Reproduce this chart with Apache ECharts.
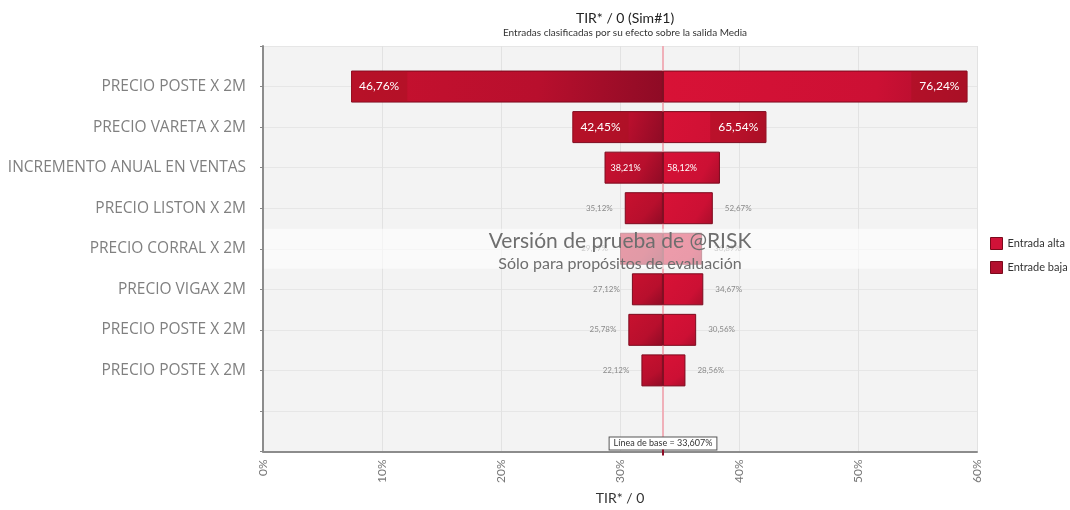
<!DOCTYPE html>
<html>
<head>
<meta charset="utf-8">
<script src="https://cdn.jsdelivr.net/npm/echarts@6/dist/echarts.min.js"></script>
<style>
  html, body { margin: 0; padding: 0; background: #ffffff; }
  #chart { width: 1070px; height: 510px; }
</style>
</head>
<body>
<div id="chart"></div>
<script>
// Inputs ranked by their effect on the mean of TIR* / 0
const categories = [
  'PRECIO POSTE X 2M',
  'PRECIO VARETA X 2M',
  'INCREMENTO ANUAL EN VENTAS',
  'PRECIO LISTON X 2M',
  'PRECIO CORRAL X 2M',
  'PRECIO VIGAX 2M',
  'PRECIO POSTE X 2M',
  'PRECIO POSTE X 2M'
];
// Output mean (%) when the input is at its low / high value
const outputAtLow  = [7.4, 26.0, 28.7, 30.4, 30.0, 31.0, 30.7, 31.8];
const outputAtHigh = [59.2, 42.3, 38.4, 37.8, 36.9, 37.0, 36.4, 35.5];
// Input values printed at the bar ends
const inputLowLabels  = ['46,76%', '42,45%', '38,21%', '35,12%', '29,97%', '27,12%', '25,78%', '22,12%'];
const inputHighLabels = ['76,24%', '65,54%', '58,12%', '52,67%', '36,89%', '34,67%', '30,56%', '28,56%'];
const baseline = 33.607;
const xTicks = [0, 10, 20, 30, 40, 50, 60];

const FONT = 'Lato, "Noto Sans", sans-serif';
const CAT_FONT = '"Open Sans", "Noto Sans", sans-serif';
const chart = echarts.init(document.getElementById('chart'), null, { renderer: 'canvas' });

// one empty slot above and two below the ranked inputs
const yCats = [''].concat(categories, ['', '']);
const padData = arr => ['-'].concat(arr, ['-', '-']);

function labelFor(i, side) {
  const text = side === 'low' ? inputLowLabels[i] : inputHighLabels[i];
  if (i <= 1) {
    return {
      show: true, formatter: text,
      position: side === 'low' ? 'insideLeft' : 'insideRight',
      distance: 0, color: '#ffffff', fontSize: 12, fontFamily: FONT,
      backgroundColor: 'rgba(170,18,34,0.55)', padding: [9, 8, 9, 8]
    };
  }
  if (i === 2) {
    return {
      show: true, formatter: text, position: 'insideLeft',
      distance: side === 'low' ? 6 : 4, color: '#ffffff', fontSize: 9, fontFamily: FONT
    };
  }
  return {
    show: true, formatter: text,
    position: side === 'low' ? 'left' : 'right',
    distance: 12, color: '#8a8a8a', fontSize: 8, fontFamily: FONT
  };
}

const lowColor = new echarts.graphic.LinearGradient(0, 0, 1, 1, [
  { offset: 0, color: '#c8112f' },
  { offset: 0.6, color: '#b80f2d' },
  { offset: 1, color: '#8e0b25' }
]);
const highColor = new echarts.graphic.LinearGradient(0, 0, 1, 1, [
  { offset: 0, color: '#d81236' },
  { offset: 0.7, color: '#cc1034' },
  { offset: 1, color: '#a90e2b' }
]);

const baseData = padData(outputAtLow);
const lowData = padData(outputAtLow.map((v, i) => ({
  value: +(baseline - v).toFixed(3), label: labelFor(i, 'low')
})));
const highData = padData(outputAtHigh.map((v, i) => ({
  value: +(v - baseline).toFixed(3), label: labelFor(i, 'high')
})));

const option = {
  backgroundColor: '#ffffff',
  animation: false,
  title: [{
    text: 'TIR* / 0 (Sim#1)',
    subtext: 'Entradas clasificadas por su efecto sobre la salida Media',
    left: 620, top: 6, textAlign: 'center', itemGap: 3,
    textStyle: { fontSize: 14, fontWeight: 'normal', color: '#222', fontFamily: FONT },
    subtextStyle: { fontSize: 10, color: '#333', fontFamily: FONT }
  }],
  legend: {
    orient: 'vertical', left: 985, top: 232, itemWidth: 12, itemHeight: 12, itemGap: 11,
    icon: 'rect',
    textStyle: { fontSize: 11, color: '#333', fontFamily: FONT },
    data: [
      { name: 'Entrada alta', itemStyle: { color: '#d01238', borderColor: '#7a0a1c', borderWidth: 1 } },
      { name: 'Entrade baja', itemStyle: { color: '#b30f2e', borderColor: '#7a0a1c', borderWidth: 1 } }
    ]
  },
  grid: { left: 263, right: 93, top: 46, bottom: 58.5, outerBoundsMode: 'none',
          show: true, backgroundColor: '#f3f3f3', borderWidth: 0 },
  xAxis: {
    type: 'value', min: xTicks[0], max: xTicks[xTicks.length - 1], interval: 10,
    name: 'TIR* / 0', nameLocation: 'middle', nameGap: 40,
    nameTextStyle: { fontSize: 14, color: '#333', fontFamily: FONT },
    axisLine: { show: true, lineStyle: { color: '#8c8c8c', width: 2 } },
    axisTick: { show: false },
    axisLabel: { rotate: 90, margin: 8, fontSize: 12, color: '#777', fontFamily: FONT,
                 formatter: v => v + '%' },
    splitLine: { show: true, lineStyle: { color: '#e2e2e2', width: 1 } }
  },
  yAxis: {
    type: 'category', data: yCats, inverse: true, boundaryGap: false,
    axisLine: { show: true, lineStyle: { color: '#8c8c8c', width: 2 } },
    axisTick: { show: true, length: 3, lineStyle: { color: '#888' } },
    axisLabel: { fontSize: 15.5, color: '#808080', margin: 17, fontFamily: CAT_FONT,
                 interval: 0 },
    splitLine: { show: true, lineStyle: { color: '#e6e6e6', width: 1 } }
  },
  series: [
    {
      name: 'base', type: 'bar', stack: 'tornado', barWidth: 32, silent: true,
      itemStyle: { color: 'transparent' }, data: baseData
    },
    {
      name: 'Entrade baja', type: 'bar', stack: 'tornado', barWidth: 32,
      itemStyle: { color: lowColor, borderColor: '#7d0a1e', borderWidth: 1 },
      data: lowData
    },
    {
      name: 'Entrada alta', type: 'bar', stack: 'tornado', barWidth: 32,
      itemStyle: { color: highColor, borderColor: '#7d0a1e', borderWidth: 1 },
      data: highData
    }
  ]
};
chart.setOption(option);

// Baseline rule, evaluation watermark band and captions, placed on the axes
const px = v => chart.convertToPixel({ xAxisIndex: 0 }, v);
const py = i => chart.convertToPixel({ yAxisIndex: 0 }, i);
const xL = px(0), xR = px(60), xB = Math.round(px(baseline));
const yRow = py(5);
const yTop = py(0);
const yBottom = py(yCats.length - 1);

chart.setOption({
  graphic: [
    {
      type: 'line', z: 1, silent: true,
      shape: { x1: xB, y1: yTop, x2: xB, y2: yBottom },
      style: { stroke: '#f0b0b9', lineWidth: 2 }
    },
    {
      type: 'rect', z: 50, silent: true,
      shape: { x: xL + 1, y: yRow - 20, width: xR - xL - 1, height: 40 },
      style: { fill: 'rgba(255,255,255,0.58)' }
    },
    {
      type: 'text', z: 51, silent: true, x: px(30), y: yRow - 8,
      style: { text: 'Versión de prueba de @RISK', fill: '#6e6e6e', font: '21px ' + FONT,
               align: 'center', verticalAlign: 'middle' }
    },
    {
      type: 'text', z: 51, silent: true, x: px(30), y: yRow + 15,
      style: { text: 'Sólo para propósitos de evaluación', fill: '#6e6e6e', font: '16px ' + FONT,
               align: 'center', verticalAlign: 'middle' }
    },
    {
      type: 'text', z: 52, silent: true, x: xB, y: yBottom - 8,
      style: { text: 'Línea de base = 33,607%', fill: '#333', font: '9px ' + FONT,
               align: 'center', verticalAlign: 'middle',
               backgroundColor: '#ffffff', borderColor: '#555', borderWidth: 1,
               padding: [2, 4, 1, 4] }
    },
    {
      type: 'rect', z: 53, silent: true,
      shape: { x: xB - 1, y: yBottom - 2, width: 2, height: 6 },
      style: { fill: '#8e0b25' }
    }
  ]
});
</script>
</body>
</html>
